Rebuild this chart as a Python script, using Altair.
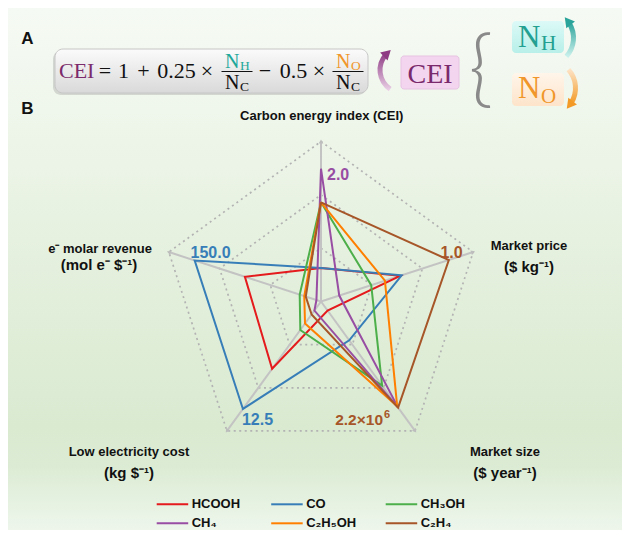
import altair as alt
import pandas as pd

W, H = 614, 522
CX, CY, R = 313.0, 293.5, 160.0

AXES = ["Carbon energy index (CEI)", "Market price", "Market size",
        "Low electricity cost", "e⁻ molar revenue"]
SERIES = ["HCOOH", "CO", "CH₃OH", "CH₄", "C₂H₅OH", "C₂H₄"]
COLORS = ["#e41a1c", "#377eb8", "#4daf4a", "#984ea3", "#ff7f00", "#a65628"]

# score of each product on each axis, as a fraction of the outer pentagon
HCOOH = [0.21, 0.52, 0.07, 0.52, 0.50]
CO = [0.21, 0.53, 0.30, 0.83, 0.83]
CH3OH = [0.62, 0.33, 0.65, 0.22, 0.14]
CH4 = [0.83, 0.12, 0.82, 0.07, 0.03]
C2H5OH = [0.62, 0.42, 0.81, 0.17, 0.11]
C2H4 = [0.62, 0.84, 0.82, 0.10, 0.10]
VALUES = [HCOOH, CO, CH3OH, CH4, C2H5OH, C2H4]
GRID_LEVELS = [1 / 3, 2 / 3, 1.0]

SANS = "Liberation Sans"
SERIF = "Liberation Serif"
ONE = alt.Data(values=[{"o": 1}])


def grad(stops):
    return alt.Gradient(gradient="linear", x1=0, y1=0, x2=0, y2=1,
                        stops=[alt.GradientStop(offset=o, color=c) for o, c in stops])


def text(s, x, y, size, color="#111111", weight="bold", font=SANS,
         align="center", baseline="alphabetic"):
    return alt.Chart(ONE).mark_text(
        text=s, font=font, fontSize=size, fontWeight=weight, color=color,
        align=align, baseline=baseline).encode(x=alt.value(x), y=alt.value(y))


def rect(x, y, x2, y2, fill, stroke=None, radius=0, opacity=1.0):
    kw = dict(fill=fill, cornerRadius=radius, opacity=opacity)
    if stroke:
        kw.update(stroke=stroke, strokeWidth=1)
    return alt.Chart(ONE).mark_rect(**kw).encode(
        x=alt.value(x), x2=alt.value(x2), y=alt.value(y), y2=alt.value(y2))


def hline(x, x2, y, color="#111111", w=1.0):
    return alt.Chart(ONE).mark_rule(color=color, strokeWidth=w).encode(
        x=alt.value(x), x2=alt.value(x2), y=alt.value(y))


def arc(cx, cy, r1, r2, t1, t2, fill):
    return alt.Chart(ONE).mark_arc(
        fill=fill, radius=r2, radius2=r1, theta=t1, theta2=t2).encode(
        x=alt.value(cx), y=alt.value(cy))


def head(x, y, ang, color, size=120):
    return alt.Chart(ONE).mark_point(
        shape="triangle-up", filled=True, size=size, color=color, opacity=1,
        angle=ang).encode(x=alt.value(x), y=alt.value(y))


layers = []
# background
layers.append(rect(0, 0, W, H, grad([(0, "#f6faf4"), (0.2, "#eff6eb"), (0.5, "#e4f0dd"),
                                      (0.8, "#daead1"), (0.88, "#dcecd4"), (1, "#eef6ec")])))

# ---------------- panel A ----------------
layers.append(text("A", 19.5, 36, 17))
layers.append(text("B", 19.5, 105.5, 17))
layers.append(rect(45, 43, 358, 87, "#9a9a9a", radius=8, opacity=0.35))
layers.append(rect(47, 41, 360, 85, grad([(0, "#fbfbfb"), (1, "#d9d9d9")]),
                   stroke="#c6c6c6", radius=8))
FS = 22
BL = 69.5
layers.append(text("CEI", 51, BL, FS, color="#7b2a6b", weight="normal", font=SERIF, align="left"))
for s, x in [("=", 97), ("1", 115.5), ("+", 135.5), ("0.25", 168.5), ("×", 199),
             ("−", 257), ("0.5", 285.5), ("×", 311)]:
    layers.append(text(s, x, BL, FS, weight="normal", font=SERIF))
BAR = 63.5
for cxf, sub, col in [(229, "H", "#1ea89a"), (340, "O", "#f0962a")]:
    layers.append(text("N", cxf + 2.5, BAR - 4, 20, color=col, weight="normal", font=SERIF, align="right"))
    layers.append(text(sub, cxf + 3, BAR - 1.5, 13.5, color=col, weight="normal", font=SERIF, align="left"))
    layers.append(hline(cxf - 15.5, cxf + 15.5, BAR))
    layers.append(text("N", cxf + 2.5, BAR + 17, 20, weight="normal", font=SERIF, align="right"))
    layers.append(text("C", cxf + 3, BAR + 19.5, 13.5, weight="normal", font=SERIF, align="left"))

# purple arrow + CEI box
layers.append(arc(395, 62, 20.5, 25.5, 3.735, 5.445, grad([(0, "#8e3b84"), (1, "#ecd3e8")])))
layers.append(head(379.3, 45.2, 47, "#8e3b84"))
layers.append(rect(393, 48, 451, 81, "#f3d5ef", stroke="#e6c3e2", radius=3))
layers.append(text("CEI", 422, 74.5, 28, color="#7a2a6c", weight="normal", font=SERIF))
# brace
layers.append(text("{", 473, 64, 84, color="#8a8a8a", weight=300, font="Lato", baseline="middle"))
# N_H box and arrow
layers.append(rect(504, 13, 556, 45, grad([(0, "#dcfaf7"), (1, "#b8efe9")]), radius=4))
layers.append(text("N", 510, 38.7, 31, color="#23a091", weight="normal", font=SERIF, align="left"))
layers.append(text("H", 533, 41.5, 21, color="#23a091", weight="normal", font=SERIF, align="left"))
layers.append(arc(538, 30, 25, 30, 1.012, 2.304, grad([(0, "#2aa39a"), (1, "#d2f4f0")])))
layers.append(head(559.7, 13.1, 322, "#2aa39a"))
# N_O box and arrow
layers.append(rect(504, 65, 556, 98, grad([(0, "#fff5ea"), (1, "#fde4ca")]), radius=4))
layers.append(text("N", 510, 90, 31, color="#f0962a", weight="normal", font=SERIF, align="left"))
layers.append(text("O", 533, 94.5, 21, color="#f0962a", weight="normal", font=SERIF, align="left"))
layers.append(arc(540, 80, 25, 30, 0.838, 2.129, grad([(0, "#fde6cc"), (1, "#f39a26")])))
layers.append(head(561.7, 96.9, 218, "#f39a26"))

# ---------------- panel B: radar ----------------
PX = "datum.r * cos(PI / 2 - datum.k * 2 * PI / 5)"
PY = "datum.r * sin(PI / 2 - datum.k * 2 * PI / 5)"
XS = alt.Scale(domain=[-CX / R, (W - CX) / R], nice=False, zero=False)
YS = alt.Scale(domain=[-(H - CY) / R, CY / R], nice=False, zero=False)
X = alt.X("px:Q", scale=XS, axis=None)
Y = alt.Y("py:Q", scale=YS, axis=None)
COLOR = alt.Color("series:N", scale=alt.Scale(domain=SERIES, range=COLORS), legend=None)

grid_df = pd.DataFrame([{"level": lv, "k": k, "r": lv} for lv in GRID_LEVELS for k in range(6)])
layers.append(alt.Chart(grid_df).transform_calculate(px=PX, py=PY).mark_line(
    stroke="#b3b3b3", strokeWidth=1.7, strokeDash=[2, 3.5]).encode(
    x=X, y=Y, detail="level:N", order="k:Q"))

spoke_df = pd.DataFrame({"k": list(range(5)), "r": [1.0] * 5, "axis": AXES})
layers.append(alt.Chart(spoke_df).transform_calculate(px=PX, py=PY, z="0").mark_rule(
    stroke="#c3c3c3", strokeWidth=2).encode(x=X, y=Y, x2="z:Q", y2="z:Q"))
layers.append(alt.Chart(spoke_df).transform_calculate(px=PX, py=PY, rot="datum.k * 72").mark_point(
    shape="triangle-up", filled=True, size=22, color="#bdbdbd", opacity=1).encode(
    x=X, y=Y, angle=alt.Angle("rot:Q", scale=None)))

rows = []
for name, vals in zip(SERIES, VALUES):
    for k in range(6):
        rows.append({"series": name, "k": k, "r": vals[k % 5]})
radar_df = pd.DataFrame(rows)
layers.append(alt.Chart(radar_df).transform_calculate(px=PX, py=PY).mark_line(
    strokeWidth=2, strokeJoin="miter").encode(x=X, y=Y, color=COLOR, order="k:Q", detail="series:N"))

# axis maxima labels
layers.append(text("2.0", 319, 172, 16, color="#984ea3", align="left"))
layers.append(text("1.0", 443.5, 250, 16, color="#a65628"))
layers.append(text("150.0", 202.5, 250, 16, color="#377eb8"))
layers.append(text("12.5", 249.5, 417, 16, color="#377eb8"))
layers.append(text("2.2×10", 375, 417, 15.5, color="#a65628", align="right"))
layers.append(text("6", 376, 410, 11, color="#a65628", align="left"))

# axis titles
layers.append(text(AXES[0], 313.7, 112, 13))
layers.append(text(AXES[1], 521, 242, 13))
layers.append(text("($ kg⁻¹)", 521, 264, 15))
layers.append(text(AXES[2], 497, 448, 13))
layers.append(text("($ year⁻¹)", 497, 470, 15))
layers.append(text(AXES[3], 121, 448, 13))
layers.append(text("(kg $⁻¹)", 121, 470, 15))
layers.append(text(AXES[4], 92, 245, 13))
layers.append(text("(mol e⁻ $⁻¹)", 91, 262, 15))

# legend
leg_df = pd.DataFrame({"series": SERIES, "i": list(range(6))})
leg = alt.Chart(leg_df).transform_calculate(
    lx="148.7 + (datum.i % 3) * 114.5", ly="496.3 + floor(datum.i / 3) * 19")
leg = leg.transform_calculate(lx2="datum.lx + 31.5", tx="datum.lx + 35")
layers.append(leg.mark_rule(strokeWidth=2).encode(
    x=alt.X("lx:Q", scale=None), x2="lx2:Q", y=alt.Y("ly:Q", scale=None), color=COLOR))
layers.append(leg.mark_text(align="left", baseline="middle", font=SANS, fontSize=13,
                            fontWeight="bold", color="#111111").encode(
    x=alt.X("tx:Q", scale=None), y=alt.Y("ly:Q", scale=None), text="series:N"))

chart = alt.layer(*layers).resolve_scale(x="independent", y="independent").properties(
    width=W, height=H, padding=0, autosize=alt.AutoSizeParams(type="none")
).configure_view(stroke=None)

chart.save("out.html", embed_options={"renderer": "svg", "actions": False})
